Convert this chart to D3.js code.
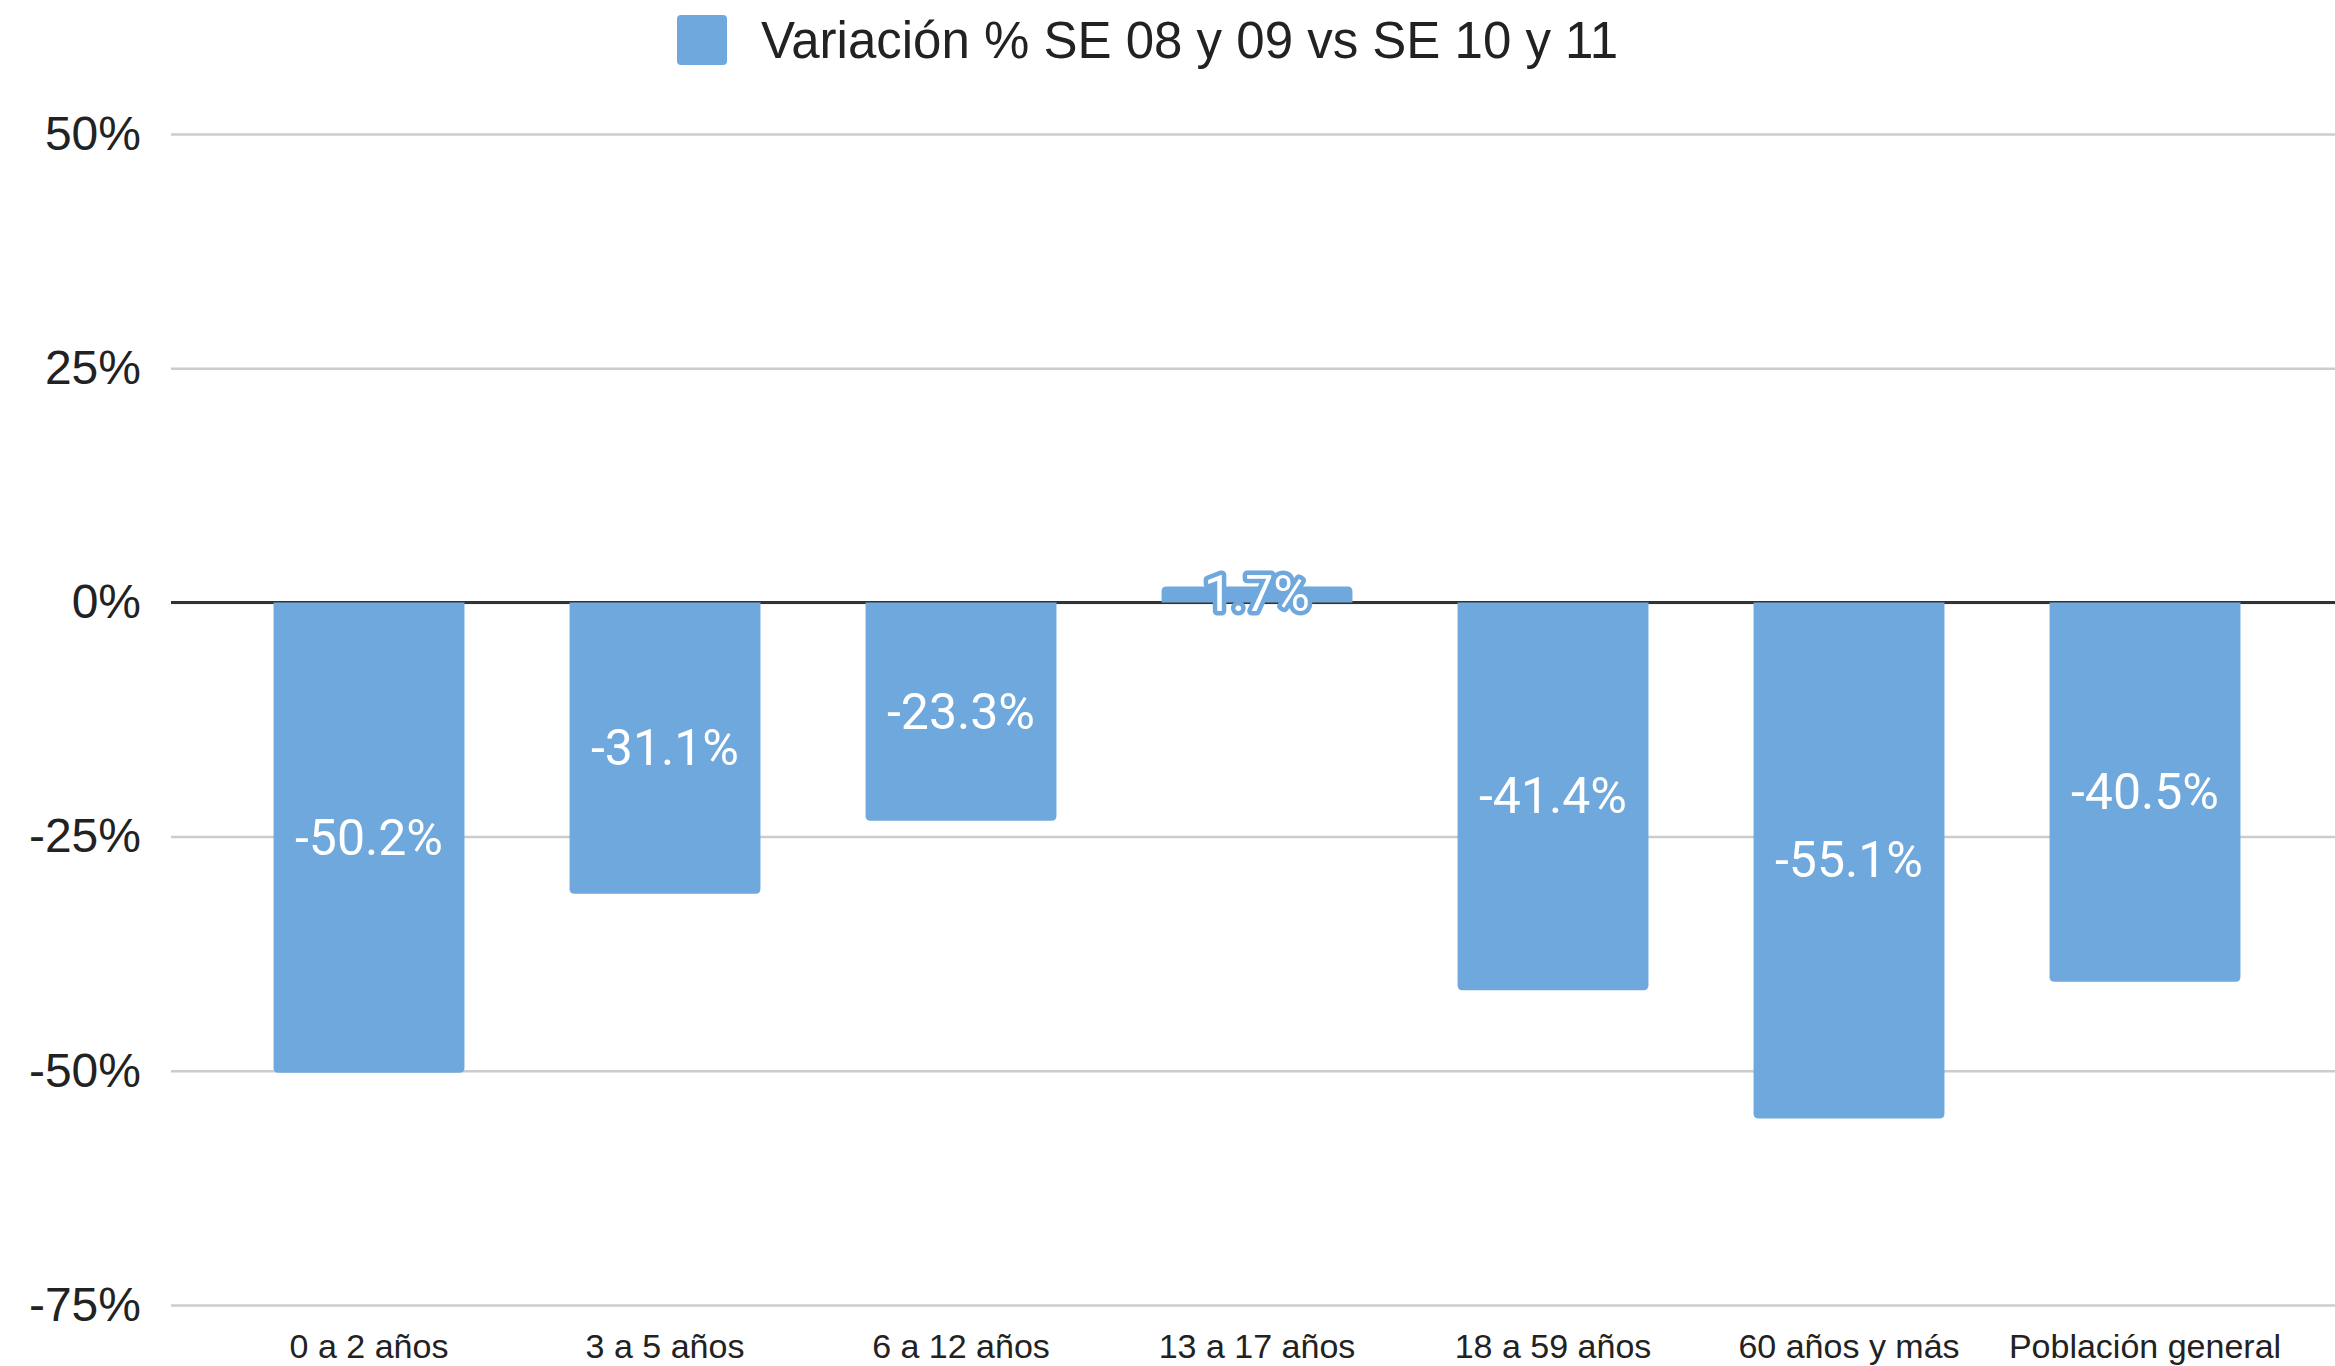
<!DOCTYPE html>
<html>
<head>
<meta charset="utf-8">
<title>Variación % SE 08 y 09 vs SE 10 y 11</title>
<script src="https://cdn.jsdelivr.net/npm/d3@7"></script>
<style>
  body { margin: 0; background: #fff; }
  svg { display: block; }
</style>
</head>
<body>
<div id="chart"></div>
<script>
// data
var categories = ["0 a 2 años", "3 a 5 años", "6 a 12 años", "13 a 17 años",
                  "18 a 59 años", "60 años y más", "Población general"];
var values = [-0.502, -0.311, -0.233, 0.017, -0.414, -0.551, -0.405];
var yTicks = [-0.75, -0.5, -0.25, 0, 0.25, 0.5];
var seriesName = "Variación % SE 08 y 09 vs SE 10 y 11";

var width = 2335;
var height = 1366;
var barColor = "#6fa8dc";

var svg = d3.select("#chart")
    .append("svg")
    .attr("width", width)
    .attr("height", height);

var gridLeft = 171;

var y = d3.scaleLinear()
    .domain([-0.75, 0.5])
    .range([1305, 134]);

var x = d3.scaleBand()
    .domain(categories)
    .range([221, 221 + 7 * 296])
    .paddingInner(0.355)
    .paddingOuter(0.1775);

// gridlines + y labels
var yAxis = d3.axisLeft(y)
    .tickValues(yTicks)
    .tickSize(-(width - gridLeft))
    .tickPadding(30)
    .tickFormat(function(d) { return Math.round(d * 100) + "%"; });

var gy = svg.append("g")
    .attr("transform", "translate(" + gridLeft + ",0)")
    .call(yAxis);

gy.select(".domain").remove();
gy.selectAll(".tick line")
    .attr("stroke", "#cccccc")
    .attr("stroke-width", 2.5);
gy.selectAll(".tick text")
    .attr("fill", "#222")
    .style("font-family", "'Liberation Sans', Arial, sans-serif")
    .style("font-size", "48px");

// bars with rounded far end
var r = 5;
function barPath(d, i) {
  var x0 = x(categories[i]), w = x.bandwidth();
  var y0 = y(0), y1 = y(d);
  var rr = Math.min(r, Math.abs(y1 - y0) / 2);
  if (d < 0) {
    return "M" + x0 + "," + y0 +
      "H" + (x0 + w) +
      "V" + (y1 - rr) +
      "Q" + (x0 + w) + "," + y1 + " " + (x0 + w - rr) + "," + y1 +
      "H" + (x0 + rr) +
      "Q" + x0 + "," + y1 + " " + x0 + "," + (y1 - rr) + "Z";
  }
  return "M" + x0 + "," + y0 +
    "V" + (y1 + rr) +
    "Q" + x0 + "," + y1 + " " + (x0 + rr) + "," + y1 +
    "H" + (x0 + w - rr) +
    "Q" + (x0 + w) + "," + y1 + " " + (x0 + w) + "," + (y1 + rr) +
    "V" + y0 + "Z";
}

// zero line
svg.append("line")
    .attr("x1", gridLeft)
    .attr("x2", width)
    .attr("y1", y(0))
    .attr("y2", y(0))
    .attr("stroke", "#333")
    .attr("stroke-width", 3);

svg.append("g")
    .selectAll("path")
    .data(values)
    .enter()
    .append("path")
    .attr("d", barPath)
    .attr("fill", barColor);

// value labels
svg.append("g")
    .selectAll("text")
    .data(values)
    .enter()
    .append("text")
    .attr("x", function(d, i) { return x(categories[i]) + x.bandwidth() / 2; })
    .attr("y", function(d) { return (y(0) + y(d)) / 2; })
    .attr("text-anchor", "middle")
    .attr("dominant-baseline", "central")
    .attr("fill", "#fff")
    .attr("stroke", barColor)
    .attr("stroke-width", function(d) { return d > 0 ? 9 : 0; })
    .attr("stroke-linejoin", "round")
    .attr("paint-order", "stroke")
    .style("font-family", "Roboto, sans-serif")
    .style("font-size", "50px")
    .text(function(d) { return (d * 100).toFixed(1) + "%"; });

// x labels
svg.append("g")
    .selectAll("text")
    .data(categories)
    .enter()
    .append("text")
    .attr("x", function(d) { return x(d) + x.bandwidth() / 2; })
    .attr("y", 1358)
    .attr("text-anchor", "middle")
    .attr("fill", "#222")
    .style("font-family", "'Liberation Sans', Arial, sans-serif")
    .style("font-size", "34px")
    .text(function(d) { return d; });

// legend
var legend = svg.append("g");
legend.append("rect")
    .attr("x", 677)
    .attr("y", 15)
    .attr("width", 50)
    .attr("height", 50)
    .attr("rx", 4)
    .attr("fill", barColor);
legend.append("text")
    .attr("x", 761)
    .attr("y", 40)
    .attr("dominant-baseline", "central")
    .attr("fill", "#222")
    .style("font-family", "'Liberation Sans', Arial, sans-serif")
    .style("font-size", "51px")
    .text(seriesName);
</script>
</body>
</html>
